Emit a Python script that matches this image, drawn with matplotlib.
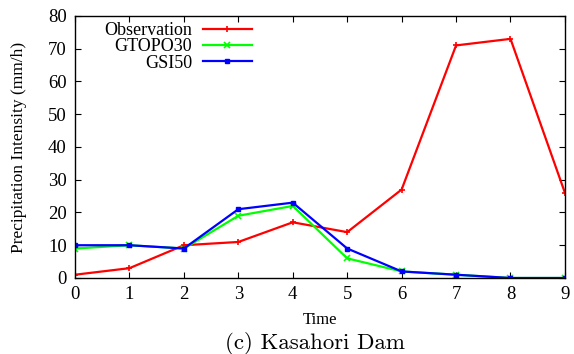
import matplotlib
matplotlib.use("Agg")
import matplotlib.pyplot as plt

time = [0, 1, 2, 3, 4, 5, 6, 7, 8, 9]
observation = [1, 3, 10, 11, 17, 14, 27, 71, 73, 26]
gtopo30 = [9, 10, 9, 19, 22, 6, 2, 1, 0, 0]
gsi50 = [10, 10, 9, 21, 23, 9, 2, 1, 0, 0]

plt.rcParams['font.family'] = ['Liberation Serif', 'DejaVu Serif']

fig = plt.figure(figsize=(5.74, 3.54), dpi=100)
ax = fig.add_axes([0.1307, 0.2147, 0.8535, 0.7403])

ax.plot(time, observation, color='#ff0000', lw=1.6, marker='+', ms=5, mew=1.2, label='Observation')
ax.plot(time, gtopo30, color='#00ff00', lw=1.6, marker='x', ms=4, mew=1.2, label='GTOPO30')
ax.plot(time, gsi50, color='#0000ff', lw=1.6, marker='s', ms=3.5, label='GSI50')

ax.set_xlim(0, 9)
ax.set_ylim(0, 80)
ax.set_xticks(time)
ax.set_yticks(range(0, 81, 10))
ax.tick_params(direction='in', top=True, right=True, labelsize=13.5, length=4, width=0.8, pad=6)
for s in ax.spines.values():
    s.set_linewidth(1.0)

ax.set_xlabel('Time', fontsize=12, labelpad=6)
ax.set_ylabel('Precipitation Intensity (mm/h)', fontsize=12.5, labelpad=15)

leg = ax.legend(loc='upper left', bbox_to_anchor=(0.045, 1.003), frameon=False, markerfirst=False,
                fontsize=13, handlelength=2.7, labelspacing=-0.05, handletextpad=0.6, borderaxespad=0)
for t in leg.get_texts():
    t.set_ha('right')

fig.text(0.549, 0.031, '(c) Kasahori Dam', fontsize=16.5, family=['cmr10', 'DejaVu Serif'], ha='center', va='center')

fig.savefig('out.png', dpi=100)
